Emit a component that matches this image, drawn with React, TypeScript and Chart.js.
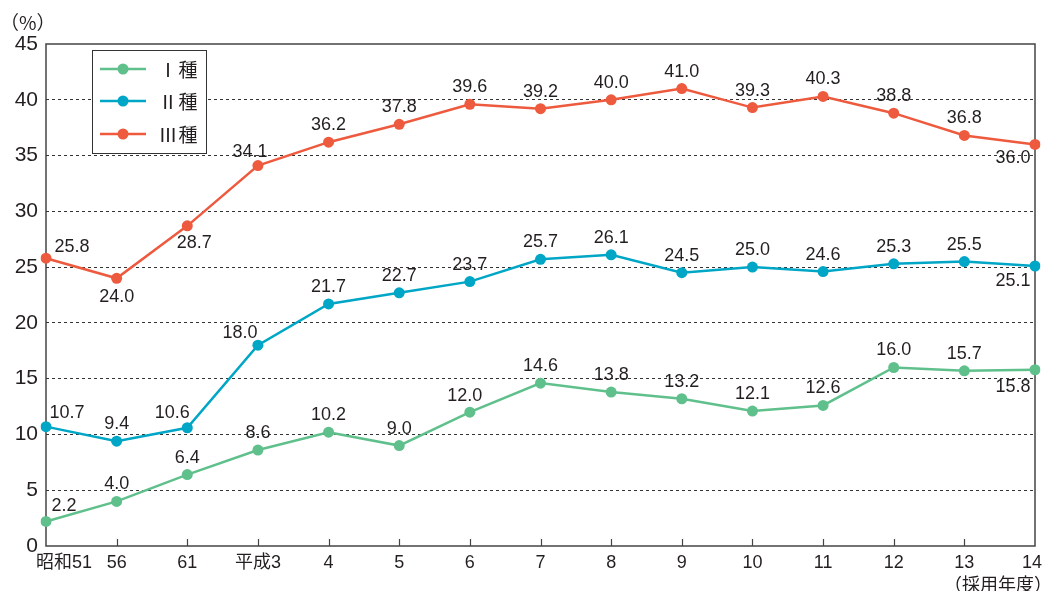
import React, { useEffect, useRef } from "react";
import { Chart, registerables } from "chart.js";

Chart.register(...registerables);

const categories = ["昭和51", "56", "61", "平成3", "4", "5", "6", "7", "8", "9", "10", "11", "12", "13", "14"];
const seriesNames = ["Ⅰ種", "Ⅱ種", "Ⅲ種"];
const typeI = [2.2, 4.0, 6.4, 8.6, 10.2, 9.0, 12.0, 14.6, 13.8, 13.2, 12.1, 12.6, 16.0, 15.7, 15.8];
const typeII = [10.7, 9.4, 10.6, 18.0, 21.7, 22.7, 23.7, 25.7, 26.1, 24.5, 25.0, 24.6, 25.3, 25.5, 25.1];
const typeIII = [25.8, 24.0, 28.7, 34.1, 36.2, 37.8, 39.6, 39.2, 40.0, 41.0, 39.3, 40.3, 38.8, 36.8, 36.0];
const yTicks = [0, 5, 10, 15, 20, 25, 30, 35, 40, 45];

// styles
const COLORS = ["#5fc08c", "#00a6c6", "#ee5a3e"];
const TEXT = "#231f20";
const LATIN = "'Liberation Sans', Arial, sans-serif";
const CJK = "'Noto Sans CJK JP', 'Liberation Sans', sans-serif";
const MIXED = "'Liberation Sans', 'Noto Sans CJK JP', sans-serif";

// label placement offsets (dx, dy) per series; default above the point
const ABOVE: [number, number] = [0, -17];
const labelOffsets: Record<number, Record<number, [number, number]>> = {
  0: { 0: [18, -15], 6: [-5, -16], 14: [-22, 17] },
  1: { 0: [21, -14], 2: [-15, -15], 3: [-18, -12], 14: [-22, 15] },
  2: { 0: [26, -11], 1: [0, 19], 2: [7, 17], 3: [-8, -14], 14: [-22, 14] },
};

export default function App() {
  const ref = useRef<HTMLCanvasElement | null>(null);

  useEffect(() => {
    document.body.style.margin = "0";
    const canvas = ref.current;
    if (!canvas) return;

    const framePlugin = {
      id: "frame",
      beforeDatasetsDraw(chart: any) {
        const { ctx, chartArea } = chart;
        const xs = chart.scales.x;
        ctx.save();
        ctx.strokeStyle = "#444";
        ctx.lineWidth = 1.5;
        ctx.strokeRect(chartArea.left, chartArea.top, chartArea.right - chartArea.left, chartArea.bottom - chartArea.top);
        ctx.lineWidth = 1.2;
        for (let i = 1; i < categories.length - 1; i++) {
          const px = Math.round(xs.getPixelForValue(i)) + 0.5;
          ctx.beginPath();
          ctx.moveTo(px, chartArea.bottom);
          ctx.lineTo(px, chartArea.bottom - 7);
          ctx.stroke();
        }
        ctx.restore();
      },
    };

    const labelPlugin = {
      id: "labels",
      afterDatasetsDraw(chart: any) {
        const { ctx } = chart;
        const xs = chart.scales.x;
        const ys = chart.scales.y;
        ctx.save();
        ctx.fillStyle = TEXT;
        ctx.font = `18px ${LATIN}`;
        ctx.textAlign = "center";
        ctx.textBaseline = "middle";
        chart.data.datasets.forEach((ds: any, di: number) => {
          ds.data.forEach((v: number, i: number) => {
            const off = (labelOffsets[di] && labelOffsets[di][i]) || ABOVE;
            const px = xs.getPixelForValue(i) + off[0];
            const py = ys.getPixelForValue(v) + off[1];
            ctx.fillText(v.toFixed(1), px, py);
          });
        });

        // legend
        const lx = 92, ly = 50, lw = 114, lh = 103;
        ctx.fillStyle = "#fff";
        ctx.fillRect(lx, ly, lw, lh);
        ctx.strokeStyle = "#333";
        ctx.lineWidth = 1;
        ctx.strokeRect(lx + 0.5, ly + 0.5, lw, lh);
        const rows = [69, 101, 134];
        chart.data.datasets.forEach((ds: any, di: number) => {
          const y = rows[di];
          ctx.strokeStyle = ds.borderColor;
          ctx.lineWidth = 2.5;
          ctx.beginPath();
          ctx.moveTo(100, y);
          ctx.lineTo(146, y);
          ctx.stroke();
          ctx.fillStyle = ds.borderColor;
          ctx.beginPath();
          ctx.arc(123, y, 5.5, 0, Math.PI * 2);
          ctx.fill();
          ctx.fillStyle = TEXT;
          ctx.font = `19px ${CJK}`;
          ctx.textAlign = "center";
          const label: string = ds.label;
          ctx.fillText(label.slice(0, 1), 168, y + 1);
          ctx.fillText(label.slice(1), 188, y + 1);
        });
        ctx.restore();
      },
      afterDraw(chart: any) {
        const { ctx, chartArea } = chart;
        const xs = chart.scales.x;
        ctx.save();
        ctx.fillStyle = TEXT;
        ctx.textBaseline = "middle";
        categories.forEach((c, i) => {
          let px = xs.getPixelForValue(i);
          ctx.font = `18px ${MIXED}`;
          const w = ctx.measureText(c).width;
          ctx.textAlign = "center";
          if (px - w / 2 < 36) px = 36 + w / 2;
          if (px + w / 2 > 1042) px = 1042 - w / 2;
          ctx.fillText(c, px, chartArea.bottom + 17);
        });
        ctx.font = `18px ${CJK}`;
        ctx.textAlign = "right";
        ctx.fillText("（採用年度）", 1052, chartArea.bottom + 38);
        ctx.textAlign = "left";
        ctx.font = `19px ${CJK}`;
        ctx.fillText("（%）", 0, 23);
        ctx.restore();
      },
    };

    const chart = new Chart(canvas, {
      type: "line",
      data: {
        labels: categories,
        datasets: [typeI, typeII, typeIII].map((d, i) => ({
          label: seriesNames[i],
          data: d,
          borderColor: COLORS[i],
          backgroundColor: COLORS[i],
          pointBackgroundColor: COLORS[i],
          pointBorderWidth: 0,
          pointRadius: 5.5,
          borderWidth: 2.5,
          tension: 0,
          fill: false,
        })),
      },
      options: {
        responsive: false,
        animation: false,
        layout: { padding: { top: 44, right: 12, left: 0, bottom: 0 } },
        plugins: { legend: { display: false }, tooltip: { enabled: false } },
        scales: {
          x: {
            type: "category",
            offset: false,
            grid: { display: false },
            border: { display: false },
            ticks: { display: false },
            afterFit(s: any) {
              s.height = 45;
            },
          },
          y: {
            min: 0,
            max: 45,
            afterBuildTicks(s: any) {
              s.ticks = yTicks.map((v) => ({ value: v }));
            },
            grid: {
              drawTicks: false,
              lineWidth: 1,
              color: (c: any) => (c.tick && (c.tick.value === 0 || c.tick.value === 45) ? "rgba(0,0,0,0)" : "#333"),
            },
            border: { display: false, dash: [3, 3] },
            ticks: {
              padding: 8,
              color: TEXT,
              font: { family: LATIN, size: 21 },
            },
            afterFit(s: any) {
              s.width = 46;
            },
          },
        },
      },
      plugins: [framePlugin, labelPlugin],
    });
    return () => chart.destroy();
  }, []);

  return (
    <div style={{ width: 1047, height: 591 }}>
      <canvas ref={ref} width={1047} height={591} />
    </div>
  );
}
